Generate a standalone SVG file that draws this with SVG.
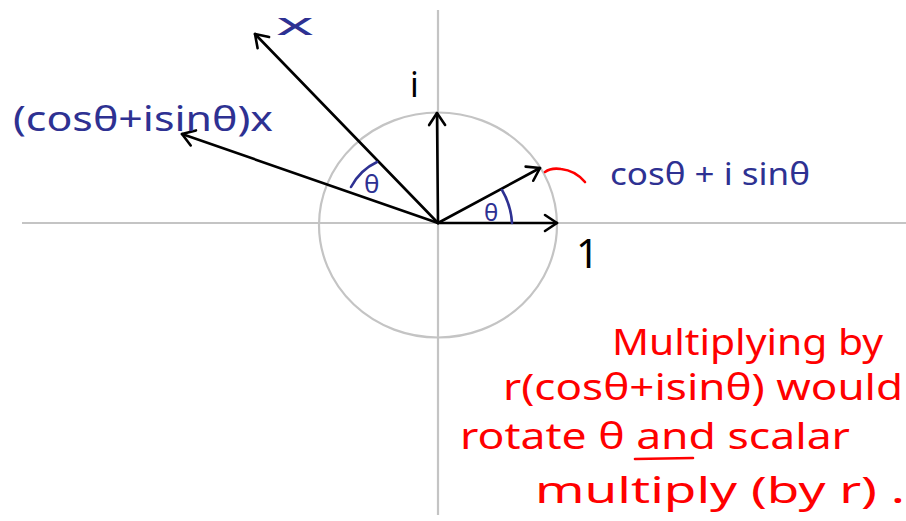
<svg xmlns="http://www.w3.org/2000/svg" width="906" height="521" viewBox="0 0 906 521">
<style>
.axis{stroke:#c4c4c4;stroke-width:2.2;fill:none}
.vec{stroke:#000;stroke-width:2.6;fill:none;stroke-linecap:round}
.blue{fill:#2e3192;font-family:"Noto Sans","Liberation Sans",sans-serif}
.blk{fill:#000;font-family:"Noto Sans","Liberation Sans",sans-serif}
.red{fill:#f00;font-family:"Noto Sans","Liberation Sans",sans-serif;font-size:36px}
.bstroke{stroke:#2e3192;stroke-width:2.6;fill:none;stroke-linecap:round}
.rstroke{stroke:#f00;stroke-width:2.6;fill:none;stroke-linecap:round}
</style>
<defs>
<marker id="ah" viewBox="-14 -10 16 20" markerWidth="16" markerHeight="20" refX="0" refY="0" orient="auto" markerUnits="userSpaceOnUse">
<path d="M-12,-8 L0,0 L-12,8" stroke="#000" stroke-width="2.6" fill="none" stroke-linecap="round" stroke-linejoin="round"/>
</marker>
</defs>
<rect width="906" height="521" fill="#fff"/>
<g id="axes">
<line class="axis" x1="22" y1="223" x2="906" y2="223"/>
<line class="axis" x1="438" y1="10" x2="438" y2="515"/>
<ellipse class="axis" cx="438" cy="225" rx="119" ry="112.5"/>
</g>
<g id="connectors">
<line class="vec" x1="438" y1="223" x2="255" y2="34" marker-end="url(#ah)"/>
<line class="vec" x1="438" y1="223" x2="182" y2="134" marker-end="url(#ah)"/>
<line class="vec" x1="438" y1="223" x2="437" y2="113" marker-end="url(#ah)"/>
<line class="vec" x1="438" y1="223" x2="540" y2="168" marker-end="url(#ah)"/>
<line class="vec" x1="438" y1="223" x2="557" y2="223" marker-end="url(#ah)"/>
</g>
<g id="label-x"><text class="blue" x="276" y="35" font-size="30" textLength="38" lengthAdjust="spacingAndGlyphs">x</text></g>
<g id="label-rotated"><text class="blue" x="13" y="131" font-size="34" textLength="260" lengthAdjust="spacingAndGlyphs">(cosθ+isinθ)x</text></g>
<g id="label-i"><text class="blk" x="410" y="97" font-size="34">i</text></g>
<g id="label-1"><text class="blk" x="576" y="268" font-size="40" textLength="23" lengthAdjust="spacingAndGlyphs">1</text></g>
<g id="label-unit">
<path class="rstroke" d="M545,172 C549,169 554,168 561,169 C571,170 579,175 585,182"/>
<text class="blue" x="610" y="185" font-size="30" textLength="200" lengthAdjust="spacingAndGlyphs">cosθ + i sinθ</text>
</g>
<g id="angle-right">
<path class="bstroke" d="M502,190 A73,73 0 0 1 512,223"/>
<text class="blue" x="484" y="221" font-size="24">θ</text>
</g>
<g id="angle-left">
<path class="bstroke" d="M351,187 Q360,170 377,162"/>
<text class="blue" x="364" y="193" font-size="26">θ</text>
</g>
<g id="note">
<text class="red" x="612" y="355" textLength="271" lengthAdjust="spacingAndGlyphs">Multiplying by</text>
<text class="red" x="503" y="400" textLength="400" lengthAdjust="spacingAndGlyphs">r(cosθ+isinθ) would</text>
<text class="red" x="460" y="449" textLength="390" lengthAdjust="spacingAndGlyphs">rotate θ and scalar</text>
<path class="rstroke" d="M635,459 L693,458"/>
<text class="red" x="535" y="503" textLength="370" lengthAdjust="spacingAndGlyphs">multiply (by r) .</text>
</g>
</svg>
